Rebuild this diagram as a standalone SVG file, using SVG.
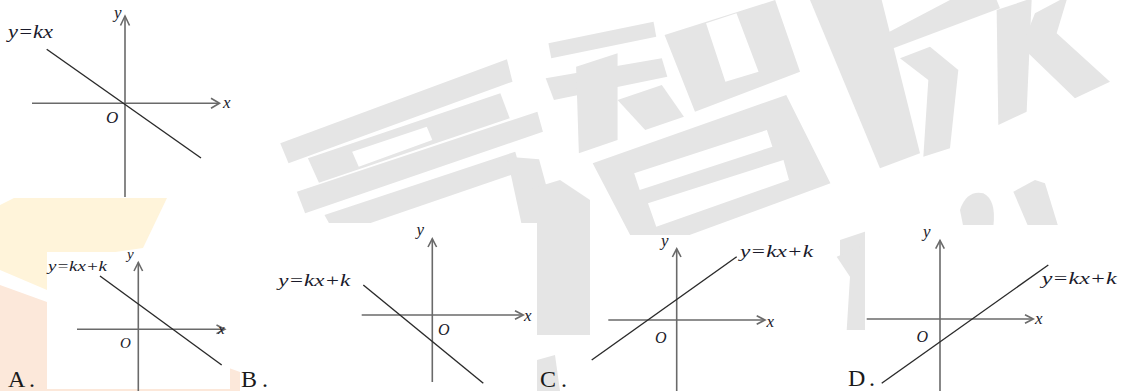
<svg xmlns="http://www.w3.org/2000/svg" width="1122" height="391" viewBox="0 0 1122 391">
<defs>
<style>
.wm{fill:#e5e5e5;fill-rule:evenodd}
.ax{stroke:#6a6a6a;stroke-width:1.6;fill:none}
.ln{stroke:#2a2a2a;stroke-width:1.4;fill:none}
.lab{font-family:"Liberation Serif","Times New Roman",serif;font-style:italic;fill:#1a1a2a}
.opt{font-family:"Liberation Serif","Times New Roman",serif;font-size:24px;fill:#1a1a1a}
.card{fill:#ffffff}
</style>
</defs>
<rect width="1122" height="391" fill="#ffffff"/>
<g id="watermark">
<path d="M0,205 L14,198 L167,198 L143,248 L47,262 L47,290 L0,270 Z" fill="#fff4da"/>
<path d="M0,285 L47,302 L240,372 L240,391 L0,391 Z" fill="#fce8da"/>
<g transform="matrix(0.553 0 0 0.3333 236 0)">
<path class="wm" d="M80,430 L490,178 L500,245 L95,490 Z"/>
<path class="wm" d="M130,475 L478,280 L495,355 L150,548 Z M210,455 L345,380 L355,420 L222,500 Z"/>
<path class="wm" d="M110,575 L545,335 L555,395 L125,640 Z"/>
<path class="wm" d="M160,645 L505,455 L515,515 L180,705 Z"/>
<path class="wm" d="M490,470 L548,478 L578,660 L520,700 Z"/>
<path class="wm" d="M565,130 L755,65 L760,110 L570,175 Z"/>
<path class="wm" d="M560,235 L770,175 L780,230 L575,300 Z"/>
<path class="wm" d="M615,200 L690,160 L690,420 L620,460 Z"/>
<path class="wm" d="M690,300 L770,255 L810,350 L740,390 Z"/>
<path class="wm" d="M775,105 L975,0 L1020,215 L830,335 Z M850,70 L905,40 L945,215 L885,245 Z"/>
<path class="wm" d="M645,490 L995,285 L1075,550 L730,760 Z M720,520 L960,390 L970,440 L730,570 Z M745,610 L990,480 L1000,540 L760,680 Z"/>
</g>
<g transform="translate(840 0) scale(0.3333)">
<path class="wm" d="M-90,0 L125,0 L240,460 L120,505 Z"/>
<path class="wm" d="M140,100 L330,0 L470,0 L480,25 L160,145 Z"/>
<path class="wm" d="M180,175 L270,140 L355,210 L330,445 L250,470 L265,240 Z"/>
<path class="wm" d="M470,30 L560,0 L575,0 L560,335 L475,375 Z"/>
<path class="wm" d="M585,40 L660,0 L680,0 L650,100 L810,245 L705,295 L545,140 Z"/>
<path class="wm" d="M360,630 Q380,570 430,580 Q470,600 460,680 L370,680 Z"/>
<path class="wm" d="M520,575 L585,540 L615,550 L655,680 L565,680 Z"/>
<path class="wm" d="M0,720 L90,690 L90,780 L0,780 Z"/>
</g>
<path class="wm" d="M836.7,256.7 L860,246.7 L876.7,263.3 L873.3,330 L846.7,330 L850,276.7 Z"/>
<path class="wm" d="M527,190 L560,180 L590,200 L590,335 L537,335 L537,225 Z"/>
<path class="wm" d="M537,360 L555,355 L560,391 L537,391 Z"/>
</g>
<g id="graph-top">
<line class="ax" x1="125" y1="197" x2="125" y2="16"/>
<polyline class="ax" points="120.5,25.5 125,16 129.5,25.5"/>
<line class="ax" x1="32" y1="103.3" x2="219" y2="103.3"/>
<polyline class="ax" points="211,98.3 219.5,103.3 211,108.3"/>
<line class="ln" x1="46.7" y1="49.3" x2="201" y2="158"/>
<text class="lab" x="8" y="38" font-size="18" textLength="45" lengthAdjust="spacingAndGlyphs">y=kx</text>
<text class="lab" x="114" y="18" font-size="17">y</text>
<text class="lab" x="223" y="108" font-size="17">x</text>
<text class="lab" x="106" y="123" font-size="17">O</text>
</g>
<g id="option-A">
<rect class="card" x="47" y="252" width="183" height="137"/>
<line class="ax" x1="138.3" y1="391" x2="138.3" y2="262.5"/>
<polyline class="ax" points="134,271 138.3,262.5 142.6,271"/>
<line class="ax" x1="77" y1="329.3" x2="224.5" y2="329.3"/>
<polyline class="ax" points="216.5,325 224.8,329.3 216.5,333.6"/>
<line class="ln" x1="100" y1="276" x2="221.7" y2="365"/>
<text class="lab" x="48" y="271" font-size="15" textLength="59" lengthAdjust="spacingAndGlyphs">y=kx+k</text>
<text class="lab" x="127" y="259" font-size="15">y</text>
<text class="lab" x="218" y="334" font-size="15">x</text>
<text class="lab" x="120" y="348" font-size="15">O</text>
<text class="opt" x="8" y="387" textLength="27" lengthAdjust="spacing">A.</text>
</g>
<g id="option-B">
<rect class="card" x="272" y="223" width="265" height="168"/>
<line class="ax" x1="432.3" y1="382" x2="432.3" y2="238.8"/>
<polyline class="ax" points="428,247 432.3,238.8 436.6,247"/>
<line class="ax" x1="361.7" y1="315" x2="523" y2="315"/>
<polyline class="ax" points="515,310.7 523.3,315 515,319.3"/>
<line class="ln" x1="363.3" y1="285" x2="483.3" y2="383.3"/>
<text class="lab" x="278.3" y="285.5" font-size="17" textLength="72" lengthAdjust="spacingAndGlyphs">y=kx+k</text>
<text class="lab" x="416.5" y="235" font-size="17">y</text>
<text class="lab" x="524" y="320.5" font-size="17">x</text>
<text class="lab" x="438" y="335" font-size="16">O</text>
<text class="opt" x="241" y="387" textLength="27" lengthAdjust="spacing">B.</text>
</g>
<g id="option-C">
<rect class="card" x="590" y="235" width="223" height="156"/>
<line class="ax" x1="676.7" y1="391" x2="676.7" y2="248.8"/>
<polyline class="ax" points="672.4,257 676.7,248.8 681,257"/>
<line class="ax" x1="608.3" y1="320" x2="764.7" y2="320"/>
<polyline class="ax" points="756.7,315.7 765,320 756.7,324.3"/>
<line class="ln" x1="591.7" y1="360" x2="736.7" y2="256.7"/>
<text class="lab" x="740" y="257" font-size="17" textLength="73" lengthAdjust="spacingAndGlyphs">y=kx+k</text>
<text class="lab" x="661" y="246" font-size="17">y</text>
<text class="lab" x="766.5" y="326.5" font-size="17">x</text>
<text class="lab" x="655" y="343" font-size="16">O</text>
<text class="opt" x="540" y="387" textLength="27" lengthAdjust="spacing">C.</text>
</g>
<g id="option-D">
<rect class="card" x="865" y="225" width="257" height="166"/>
<line class="ax" x1="940" y1="391" x2="940" y2="240.5"/>
<polyline class="ax" points="935.7,248.7 940,240.5 944.3,248.7"/>
<line class="ax" x1="866.7" y1="319" x2="1033" y2="319"/>
<polyline class="ax" points="1025,314.7 1033.3,319 1025,323.3"/>
<line class="ln" x1="881.7" y1="383.3" x2="1048.3" y2="265"/>
<text class="lab" x="1041.7" y="283.5" font-size="17" textLength="75" lengthAdjust="spacingAndGlyphs">y=kx+k</text>
<text class="lab" x="923" y="236.5" font-size="17">y</text>
<text class="lab" x="1035" y="324" font-size="17">x</text>
<text class="lab" x="916.5" y="342" font-size="16">O</text>
<text class="opt" x="848" y="386" textLength="27" lengthAdjust="spacing">D.</text>
</g>
</svg>
